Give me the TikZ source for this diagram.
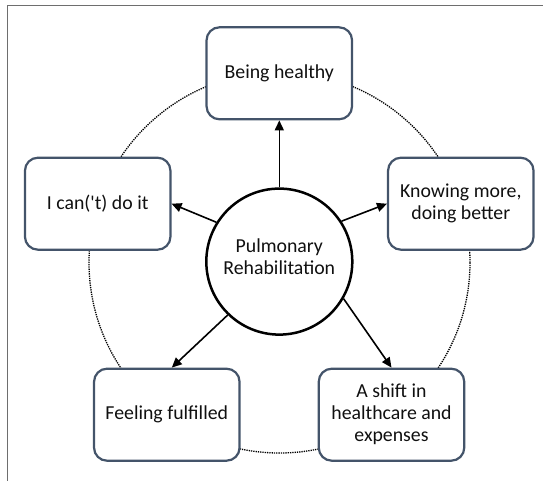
\documentclass[tikz,border=0pt]{standalone}
\usepackage{fontspec}
\setmainfont{Carlito}
\usetikzlibrary{arrows.meta}
\definecolor{boxc}{HTML}{44546A}
\definecolor{framec}{HTML}{6E6E6E}
\definecolor{txt}{HTML}{101010}
\begin{document}
\begin{tikzpicture}[x=1pt,y=-1pt,
  idea/.style={draw=boxc, line width=2.2pt, rounded corners=13pt, fill=white,
    minimum width=145.5pt, minimum height=92pt, inner sep=0pt, align=center,
    text=txt, font=\fontsize{19.8}{22}\selectfont},
  hub/.style={circle, draw=black, line width=2.5pt, fill=white, minimum size=146pt,
    inner sep=0pt, align=center, text=txt, text depth=9pt, font=\fontsize{19.8}{22}\selectfont},
  link/.style={line width=1.6pt, draw=black, -{Triangle[length=10pt,width=9pt]}}]
\useasboundingbox (0,0) rectangle (543,481);
\draw[framec, line width=1.5pt] (543,5.7) -- (7.5,5.7) -- (7.5,481);
\draw[black, line width=1.3pt, densely dotted] (279.5,262.5) circle[radius=190.5];
\node[hub] (c) at (279.3,261.6) {Pulmonary\\Rehabilitation};
\node[idea] (top) at (279.3,73.3) {Being healthy};
\node[idea] (left) at (97.7,203.7) {I can(\textquotesingle t) do it};
\node[idea] (right) at (460.8,203.7) {Knowing more,\\doing better};
\node[idea] (bl) at (166.8,414.7) {Feeling fulfilled};
\node[idea] (br) at (391.5,414.7) {A shift in\\healthcare and\\expenses};
\draw[link] (c.90) -- (top.south);
\draw[link] (c.148) -- (left.east);
\draw[link] (c.33) -- (right.west);
\draw[link] (c.226) -- ([xshift=5pt]bl.north);
\draw[link] (c.330) -- (br.north);
\end{tikzpicture}
\end{document}
